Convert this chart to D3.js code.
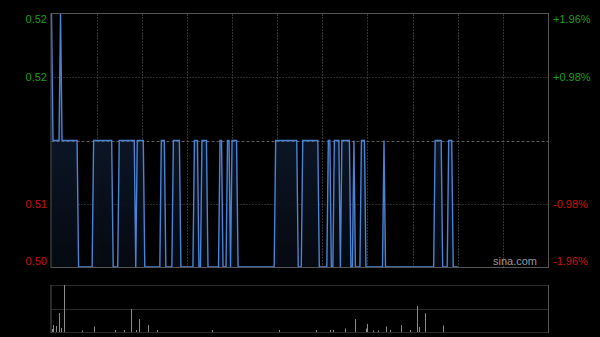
<!DOCTYPE html>
<html>
<head>
<meta charset="utf-8">
<script src="https://cdn.jsdelivr.net/npm/d3@7"></script>
<style>
  html, body { margin: 0; padding: 0; background: #000; }
  svg { display: block; font-family: Arial, "Liberation Sans", sans-serif; }
</style>
</head>
<body>
<svg id="chart" width="600" height="337"></svg>
<script>
// previous close and price levels
const prevClose = 0.51;
const priceTicks = [0.52, 0.515, 0.51, 0.505, 0.50];
const leftLabels = ["0.52", "0.52", "", "0.51", "0.50"];
const rightLabels = ["+1.96%", "+0.98%", "", "-0.98%", "-1.96%"];

// trading minutes (330 = full session), grid every 30 min
const sessionMinutes = 330;
const gridMinutes = [30, 60, 90, 120, 150, 180, 210, 240, 270, 300];

// price runs: [firstMinute, lastMinute, price]
const priceRuns = [
  [0, 0, 0.52], [1, 5, 0.51], [6, 6, 0.52], [7, 17, 0.51], [18, 27, 0.50],
  [28, 40, 0.51], [41, 44, 0.50], [45, 55, 0.51], [56, 56, 0.50], [57, 61, 0.51],
  [62, 72, 0.50], [73, 75, 0.51], [76, 80, 0.50], [81, 85, 0.51], [86, 94, 0.50],
  [95, 97, 0.51], [98, 99, 0.50], [100, 103, 0.51], [104, 111, 0.50], [112, 113, 0.51],
  [114, 116, 0.50], [117, 118, 0.51], [119, 119, 0.50], [120, 123, 0.51], [124, 148, 0.50],
  [149, 163, 0.51], [164, 166, 0.50], [167, 177, 0.51], [178, 183, 0.50], [184, 185, 0.51],
  [186, 187, 0.50], [188, 191, 0.51], [192, 192, 0.50], [193, 198, 0.51], [199, 200, 0.50],
  [201, 201, 0.51], [202, 205, 0.50], [206, 208, 0.51], [209, 220, 0.50], [221, 221, 0.51],
  [222, 254, 0.50], [255, 259, 0.51], [260, 263, 0.50], [264, 266, 0.51], [267, 270, 0.50]
];

// visible volume bars: [minute, volume]
const volumeBars = [
  [0, 3], [1, 7], [3, 6], [5, 19], [6, 4], [8, 47], [20, 1.5], [28, 5.5],
  [42, 2], [48, 2], [53, 23], [56, 2], [58, 13], [64, 7], [70, 2], [107, 2],
  [151, 2], [176, 2], [185, 2], [187, 2], [195, 3.5], [202, 13], [209, 3.5],
  [210, 8], [214, 1.5], [217, 1.5], [222, 5.5], [225, 2], [232, 7], [238, 2],
  [243, 26], [244, 5], [248, 18.7], [260, 6.5]
];

const svg = d3.select("#chart");

const plotLeft = 51.5, plotRight = 548;
const plotTop = 14, plotBottom = 267;
const volTop = 285, volBottom = 332;

const x = d3.scaleLinear().domain([0, sessionMinutes]).range([plotLeft, plotRight]);
const y = d3.scaleLinear().domain([0.50, 0.52]).range([plotBottom, plotTop]);
const yVol = d3.scaleLinear().domain([0, d3.max(volumeBars, d => d[1])]).range([volBottom, volTop]);

// points from runs (start and end of each run)
const points = [];
priceRuns.forEach(r => {
  points.push([r[0], r[2]]);
  if (r[1] !== r[0]) points.push([r[1], r[2]]);
});

// gradient for area fill
const defs = svg.append("defs");
const grad = defs.append("linearGradient")
  .attr("id", "areaFill")
  .attr("x1", 0).attr("y1", 0).attr("x2", 0).attr("y2", 1);
grad.append("stop").attr("offset", "0%").attr("stop-color", "#12243f").attr("stop-opacity", 0.95);
grad.append("stop").attr("offset", "100%").attr("stop-color", "#060a12").attr("stop-opacity", 0.9);

// vertical grid
svg.append("g")
  .selectAll("line")
  .data(gridMinutes)
  .join("line")
  .attr("x1", d => Math.round(x(d)) + 0.5)
  .attr("x2", d => Math.round(x(d)) + 0.5)
  .attr("y1", plotTop)
  .attr("y2", plotBottom)
  .attr("stroke", "#333")
  .attr("stroke-width", 1)
  .attr("stroke-dasharray", "2,1");

// horizontal grid
svg.append("g")
  .selectAll("line")
  .data([0.515, 0.505])
  .join("line")
  .attr("x1", plotLeft)
  .attr("x2", plotRight)
  .attr("y1", d => Math.round(y(d)) + 0.5)
  .attr("y2", d => Math.round(y(d)) + 0.5)
  .attr("stroke", "#555")
  .attr("stroke-width", 1)
  .attr("stroke-dasharray", "1,2");

// area + line
svg.append("path")
  .datum(points)
  .attr("d", d3.area()
    .x(d => x(d[0]))
    .y0(plotBottom)
    .y1(d => y(d[1])))
  .attr("fill", "url(#areaFill)");

// previous close line
svg.append("line")
  .attr("x1", plotLeft)
  .attr("x2", plotRight)
  .attr("y1", Math.round(y(prevClose)) + 0.5)
  .attr("y2", Math.round(y(prevClose)) + 0.5)
  .attr("stroke", "#5a5a5a")
  .attr("stroke-width", 1)
  .attr("stroke-dasharray", "3,2");

svg.append("path")
  .datum(points)
  .attr("d", d3.line()
    .x(d => x(d[0]))
    .y(d => y(d[1])))
  .attr("fill", "none")
  .attr("stroke", "#4a82d4")
  .attr("stroke-width", 1.4);

// main frame
svg.append("rect")
  .attr("x", plotLeft - 0.5)
  .attr("y", plotTop - 0.5)
  .attr("width", plotRight - plotLeft + 1)
  .attr("height", plotBottom - plotTop + 1)
  .attr("fill", "none")
  .attr("stroke", "#555")
  .attr("stroke-width", 1);

// price labels
const labelY = d => Math.min(Math.max(y(d), plotTop + 5), plotBottom - 6);
svg.append("g")
  .selectAll("text")
  .data(priceTicks)
  .join("text")
  .attr("x", 47)
  .attr("y", labelY)
  .attr("dy", "0.35em")
  .attr("text-anchor", "end")
  .attr("font-size", 11)
  .attr("fill", d => d > prevClose ? "#1a9e1a" : "#cc1010")
  .text((d, i) => leftLabels[i]);

svg.append("g")
  .selectAll("text")
  .data(priceTicks)
  .join("text")
  .attr("x", 553)
  .attr("y", labelY)
  .attr("dy", "0.35em")
  .attr("text-anchor", "start")
  .attr("font-size", 11)
  .attr("fill", d => d > prevClose ? "#1a9e1a" : "#cc1010")
  .text((d, i) => rightLabels[i]);

// watermark
svg.append("text")
  .attr("x", 537)
  .attr("y", 265)
  .attr("text-anchor", "end")
  .attr("font-size", 11)
  .attr("fill", "#9a9a9a")
  .text("sina.com");

// volume panel
svg.append("g")
  .selectAll("line")
  .data([volTop, (volTop + volBottom) / 2, volBottom])
  .join("line")
  .attr("x1", plotLeft)
  .attr("x2", plotRight)
  .attr("y1", d => Math.round(d) + 0.5)
  .attr("y2", d => Math.round(d) + 0.5)
  .attr("stroke", "#555")
  .attr("stroke-width", 1)
  .attr("stroke-dasharray", "1,1");

svg.append("g")
  .selectAll("line")
  .data([plotLeft - 0.5, plotRight + 0.5])
  .join("line")
  .attr("x1", d => d)
  .attr("x2", d => d)
  .attr("y1", volTop)
  .attr("y2", volBottom + 1)
  .attr("stroke", "#555")
  .attr("stroke-width", 1);

svg.append("g")
  .selectAll("line")
  .data(volumeBars)
  .join("line")
  .attr("x1", d => Math.round(x(d[0])) + 0.5)
  .attr("x2", d => Math.round(x(d[0])) + 0.5)
  .attr("y1", volBottom)
  .attr("y2", d => yVol(d[1]))
  .attr("stroke", "#8a8a8a")
  .attr("stroke-width", 1);
</script>
</body>
</html>
